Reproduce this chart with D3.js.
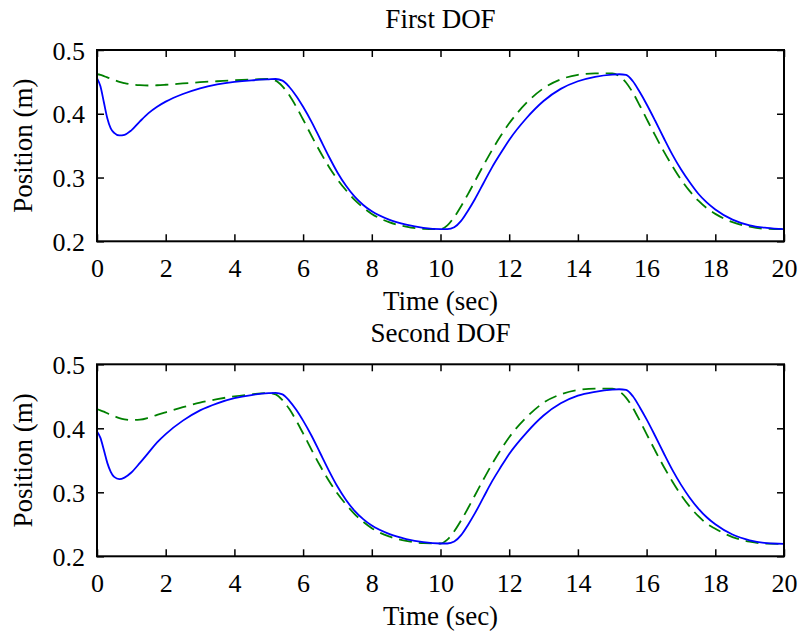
<!DOCTYPE html>
<html>
<head>
<meta charset="utf-8">
<script src="https://cdn.jsdelivr.net/npm/d3@7"></script>
<style>
  body { margin: 0; background: #fff; }
  svg { display: block; }
  svg text { font-family: "Liberation Serif", "Times New Roman", Times, serif; fill: #000; }
</style>
</head>
<body>
<div id="svg"></div>
<script>
// shared time grid (sec)
var time = [0,0.1,0.2,0.3,0.4,0.5,0.65,0.8,1,1.25,1.5,1.75,2,2.5,3,3.5,4,4.5,5,5.2,5.4,5.6,5.8,6,6.25,6.5,6.75,7,7.25,7.5,7.75,8,8.5,9,9.5,10,10.2,10.4,10.6,10.8,11,11.25,11.5,11.75,12,12.5,13,13.5,14,14.5,15,15.2,15.4,15.6,15.8,16,16.25,16.5,16.75,17,17.25,17.5,17.75,18,18.5,19,19.5,20];

// First DOF
var firstActual = [0.456,0.443,0.418,0.393,0.377,0.370,0.366,0.367,0.374,0.388,0.401,0.411,0.419,0.431,0.440,0.446,0.450,0.4525,0.454,0.4545,0.452,0.442,0.428,0.411,0.387,0.360,0.333,0.308,0.287,0.270,0.257,0.247,0.234,0.226,0.221,0.219,0.219,0.222,0.232,0.248,0.266,0.291,0.316,0.338,0.359,0.393,0.420,0.439,0.451,0.458,0.4615,0.462,0.461,0.451,0.434,0.415,0.389,0.362,0.336,0.313,0.293,0.275,0.261,0.250,0.234,0.225,0.221,0.219];
var firstDesired = [0.462,0.461,0.459,0.457,0.455,0.453,0.450,0.448,0.446,0.4448,0.4443,0.4447,0.4455,0.4475,0.4495,0.451,0.4525,0.4537,0.4545,0.452,0.443,0.429,0.411,0.391,0.365,0.340,0.317,0.297,0.280,0.265,0.253,0.243,0.230,0.223,0.2195,0.219,0.225,0.238,0.255,0.274,0.294,0.319,0.343,0.365,0.385,0.417,0.440,0.454,0.461,0.4632,0.4632,0.459,0.449,0.433,0.413,0.392,0.366,0.341,0.318,0.297,0.279,0.264,0.252,0.243,0.230,0.223,0.2195,0.219];

// Second DOF
var secondActual = [0.395,0.385,0.366,0.346,0.332,0.324,0.3205,0.323,0.331,0.346,0.362,0.378,0.391,0.412,0.428,0.439,0.447,0.452,0.455,0.4555,0.453,0.443,0.429,0.412,0.388,0.361,0.334,0.309,0.288,0.271,0.258,0.248,0.235,0.227,0.222,0.220,0.220,0.223,0.233,0.249,0.267,0.292,0.317,0.339,0.360,0.393,0.420,0.439,0.451,0.457,0.4605,0.461,0.460,0.450,0.433,0.414,0.388,0.361,0.335,0.312,0.292,0.275,0.261,0.250,0.234,0.225,0.2205,0.2195];
var secondDesired = [0.430,0.428,0.426,0.4235,0.421,0.419,0.416,0.414,0.413,0.4135,0.4165,0.421,0.425,0.433,0.440,0.4455,0.450,0.453,0.455,0.453,0.444,0.430,0.412,0.392,0.366,0.341,0.318,0.298,0.281,0.266,0.254,0.244,0.231,0.224,0.2205,0.220,0.226,0.239,0.256,0.275,0.295,0.320,0.344,0.366,0.386,0.417,0.440,0.453,0.460,0.462,0.462,0.458,0.448,0.432,0.412,0.391,0.365,0.340,0.317,0.296,0.278,0.263,0.251,0.243,0.230,0.223,0.2198,0.2195];

var xTicks = [0,2,4,6,8,10,12,14,16,18,20];
var yTicks = [0.2,0.3,0.4,0.5];

var W = 801, H = 631;
var svg = d3.select("#svg").append("svg")
  .attr("width", W).attr("height", H)
  .style("background", "#fff");

function subplot(top, bottom, title, actual, desired) {
  var left = 97, right = 784;
  var x = d3.scaleLinear().domain([0, 20]).range([left, right]);
  var y = d3.scaleLinear().domain([0.2, 0.5]).range([bottom, top]);

  var line = d3.line()
    .x(function (d) { return x(d[0]); })
    .y(function (d) { return y(d[1]); })
    .curve(d3.curveMonotoneX);

  var g = svg.append("g");

  // desired (green dashed)
  g.append("path")
    .datum(time.map(function (t, i) { return [t, desired[i]]; }))
    .attr("d", line)
    .style("fill", "none")
    .style("stroke", "#008000")
    .style("stroke-width", 1.8)
    .style("stroke-dasharray", "13,7");

  // actual (blue solid)
  g.append("path")
    .datum(time.map(function (t, i) { return [t, actual[i]]; }))
    .attr("d", line)
    .style("fill", "none")
    .style("stroke", "#0000ff")
    .style("stroke-width", 1.8);

  // axes with inward ticks
  var ax = g.append("g").attr("transform", "translate(0," + bottom + ")")
    .call(d3.axisBottom(x).tickValues(xTicks).tickSize(-7).tickSizeOuter(0).tickPadding(17.5));
  var axTop = g.append("g").attr("transform", "translate(0," + top + ")")
    .call(d3.axisTop(x).tickValues(xTicks).tickSize(-7).tickSizeOuter(0).tickFormat(""));
  var ay = g.append("g").attr("transform", "translate(" + left + ",0)")
    .call(d3.axisLeft(y).tickValues(yTicks).tickSize(-7).tickSizeOuter(0).tickPadding(12).tickFormat(d3.format(".1f")));
  var ayR = g.append("g").attr("transform", "translate(" + right + ",0)")
    .call(d3.axisRight(y).tickValues(yTicks).tickSize(-7).tickSizeOuter(0).tickFormat(""));

  [ax, axTop, ay, ayR].forEach(function (a) {
    a.attr("font-family", null).attr("font-size", null);
    a.select(".domain").remove();
    a.selectAll(".tick line").style("stroke", "#000").style("stroke-width", 1.5);
    a.selectAll("text").style("font-size", "26px").attr("fill", "#000");
  });
  ay.selectAll("text").attr("dy", "0.35em");

  // frame
  g.append("rect")
    .attr("x", left).attr("y", top)
    .attr("width", right - left).attr("height", bottom - top)
    .style("fill", "none").style("stroke", "#000").style("stroke-width", 2);

  // title
  g.append("text")
    .attr("x", (left + right) / 2).attr("y", top - 22)
    .attr("text-anchor", "middle")
    .style("font-size", "27px")
    .text(title);

  // x label
  g.append("text")
    .attr("x", (left + right) / 2).attr("y", bottom + 69)
    .attr("text-anchor", "middle")
    .style("font-size", "27px")
    .text("Time (sec)");

  // y label
  g.append("text")
    .attr("transform", "translate(32," + ((top + bottom) / 2) + ") rotate(-90)")
    .attr("text-anchor", "middle")
    .style("font-size", "27px")
    .text("Position (m)");
}

subplot(50, 241.3, "First DOF", firstActual, firstDesired);
subplot(364.3, 556.3, "Second DOF", secondActual, secondDesired);
</script>
</body>
</html>
